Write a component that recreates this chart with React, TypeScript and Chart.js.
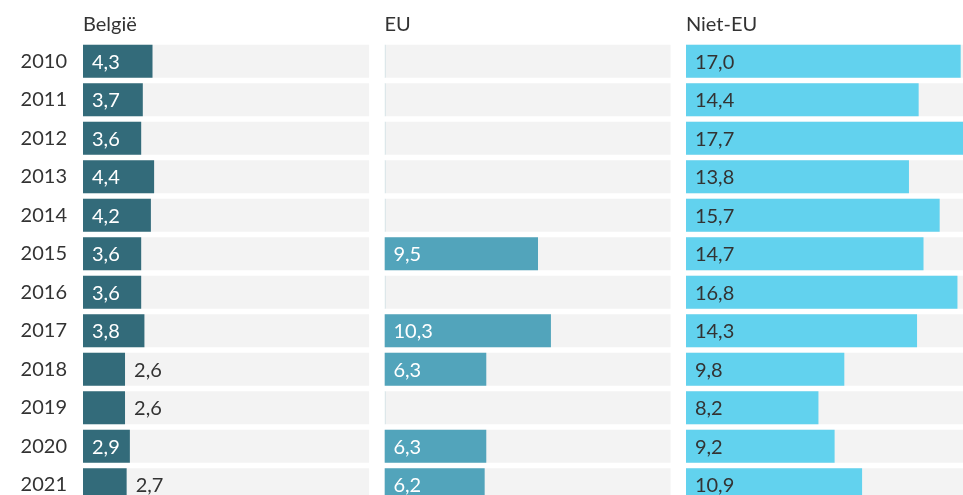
import React, { useEffect, useRef } from "react";
import { Chart, registerables } from "chart.js";

Chart.register(...registerables);

const years = ["2010", "2011", "2012", "2013", "2014", "2015", "2016", "2017", "2018", "2019", "2020", "2021"];
const belgie: (number | null)[] = [4.3, 3.7, 3.6, 4.4, 4.2, 3.6, 3.6, 3.8, 2.6, 2.6, 2.9, 2.7];
const eu: (number | null)[] = [null, null, null, null, null, 9.5, null, 10.3, 6.3, null, 6.3, 6.2];
const nietEu: (number | null)[] = [17.0, 14.4, 17.7, 13.8, 15.7, 14.7, 16.8, 14.3, 9.8, 8.2, 9.2, 10.9];
const panelTitles = ["België", "EU", "Niet-EU"];

const MAX = 17.7;
const GAP = 0.95; // spacing between panels, in value units

const colors = ["#336b7a", "#52a4bb", "#62d2ee"];
const insideText = ["#ffffff", "#ffffff", "#333333"];
const BG = "#f3f3f3";
const FONT = "Lato, 'Noto Sans', sans-serif";
const FS = 20;

const labelPlugin = {
  id: "valueLabels",
  afterDatasetsDraw(chart: any) {
    const ctx = chart.ctx;
    ctx.save();
    ctx.font = `${FS}px ${FONT}`;
    ctx.textBaseline = "middle";
    ctx.textAlign = "left";
    chart.data.datasets.forEach((ds: any, di: number) => {
      if (ds._panel === undefined || ds._bg) return;
      const meta = chart.getDatasetMeta(di);
      const raw: (number | null)[] = ds._raw;
      meta.data.forEach((el: any, i: number) => {
        const v = raw[i];
        if (v === null || v === undefined) return;
        const text = v.toFixed(1).replace(".", ",");
        const tw = ctx.measureText(text).width;
        const w = Math.abs(el.x - el.base);
        if (w >= tw + 17) {
          ctx.fillStyle = insideText[ds._panel];
          ctx.fillText(text, el.base + 9, el.y + 1);
        } else {
          ctx.fillStyle = "#333333";
          ctx.fillText(text, el.x + 9, el.y + 1);
        }
      });
    });
    ctx.restore();
  },
};

export default function App() {
  const ref = useRef<HTMLCanvasElement | null>(null);

  useEffect(() => {
    if (!ref.current) return;
    const series = [belgie, eu, nietEu];
    const datasets: any[] = [];
    series.forEach((s, p) => {
      const axis = `x${p + 1}`;
      datasets.push({
        _panel: p,
        _bg: true,
        data: years.map(() => MAX),
        backgroundColor: BG,
        xAxisID: axis,
        order: 2,
        grouped: false,
        barPercentage: 0.86,
        categoryPercentage: 1,
      });
      datasets.push({
        _panel: p,
        _raw: s,
        data: s.map((v) => (v === null ? 0 : v)),
        backgroundColor: s.map((v) => (v === null ? "rgba(82,164,187,0.14)" : colors[p])),
        minBarLength: 1.5,
        xAxisID: axis,
        order: 1,
        grouped: false,
        barPercentage: 0.86,
        categoryPercentage: 1,
      });
    });

    const xScale = (p: number, last: boolean) => ({
      type: "linear",
      position: "top",
      stack: "panels",
      stackWeight: last ? MAX : MAX + GAP,
      min: 0,
      max: last ? MAX : MAX + GAP,
      ticks: { display: false },
      grid: { display: false, drawTicks: false },
      border: { display: false },
      title: {
        display: true,
        text: panelTitles[p],
        align: "start",
        color: "#333333",
        font: { family: FONT, size: FS, lineHeight: 1.2 },
        padding: { top: 13, bottom: 5 },
      },
    });

    const chart = new Chart(ref.current, {
      type: "bar",
      data: { labels: years, datasets },
      options: {
        indexAxis: "y",
        animation: false,
        responsive: false,
        maintainAspectRatio: false,
        layout: { padding: { left: 0, right: 0, top: 0, bottom: 0 } },
        plugins: { legend: { display: false }, tooltip: { enabled: false } },
        scales: {
          x3: xScale(2, true),
          x2: xScale(1, false),
          x1: xScale(0, false),
          y: {
            type: "category",
            position: "left",
            grid: { display: false, drawTicks: false },
            border: { display: false },
            ticks: {
              color: "#333333",
              font: { family: FONT, size: FS },
              padding: 16,
            },
            afterFit(scale: any) {
              scale.width = 83;
              scale.paddingTop = 0;
              scale.paddingBottom = 0;
            },
          },
        },
      } as any,
      plugins: [labelPlugin],
    });
    return () => chart.destroy();
  }, []);

  return (
    <div style={{ position: "fixed", left: 0, top: 0, width: "100vw", height: "100vh", overflow: "hidden", background: "#fff" }}>
      <canvas ref={ref} width={972} height={504} style={{ display: "block" }} />
    </div>
  );
}
